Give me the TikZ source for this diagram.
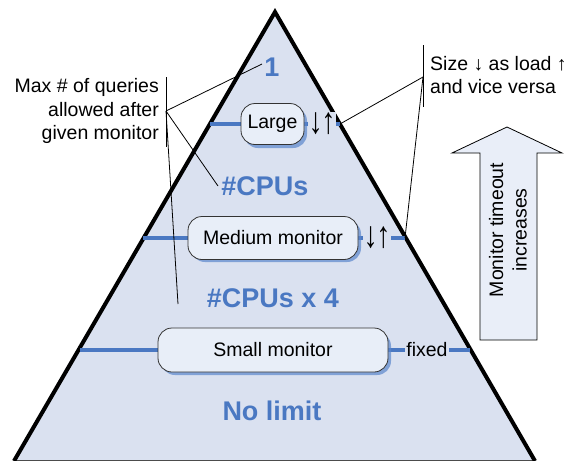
\documentclass[tikz,border=0pt]{standalone}
\usepackage{fontspec}
\setmainfont{Liberation Sans}
\newcommand{\tallarrows}{\scalebox{1.45}[1.9]{↓\kern-0.05em↑}}
\begin{document}
\begin{tikzpicture}[x=1pt,y=-1pt,
  blk/.style={font=\fontsize{19.5}{23.5}\selectfont, text=black, inner sep=0pt},
  bluetxt/.style={font=\fontsize{27}{30}\selectfont\bfseries, text=pyrblue, inner sep=0pt},
  mon/.style={draw=black!80, line width=0.8pt, fill=boxfill, rounded corners=14pt, minimum height=42pt, font=\fontsize{19.5}{23.5}\selectfont, inner sep=0pt},
  shad/.style={fill=shadblue, fill opacity=0.7, rounded corners=14pt},
  lvl/.style={draw=pyrblue, line width=4pt},
  arr/.style={fill=pyrfill, inner sep=1pt, font=\fontsize{19.5}{23.5}\selectfont},
  thin/.style={draw=black, line width=0.8pt}
]
\definecolor{pyrfill}{HTML}{DAE1F0}
\definecolor{pyrblue}{HTML}{4A78C2}
\definecolor{boxfill}{HTML}{E8EEF8}
\definecolor{shadblue}{HTML}{5B86CC}
\definecolor{arrfill}{HTML}{E9EEF8}
\useasboundingbox (0,0) rectangle (566,461);
% pyramid
\coordinate (apex) at (275,12);
\coordinate (bl) at (14,461);
\coordinate (br) at (535,461);
\fill[pyrfill] (apex) -- (bl) -- (br) -- cycle;
\draw[black!70, line width=1.5pt] (bl) -- (br);
\draw[black, line width=4pt, line join=miter] (bl) -- (apex) -- (br);
% level lines
\coordinate (l1a) at (210,124); \coordinate (l1b) at (340,124);
\coordinate (l2a) at (143,238); \coordinate (l2b) at (405,238);
\coordinate (l3a) at (80,350);  \coordinate (l3b) at (470,350);
\draw[lvl] (l1a) -- (l1b);
\draw[lvl] (l2a) -- (l2b);
\draw[lvl] (l3a) -- (l3b);
% shadows
\fill[shad] (244,107) rectangle (307,148);
\fill[shad] (191,220) rectangle (361,262);
\fill[shad] (161,332) rectangle (391,375);
% monitor boxes
\node[mon, minimum width=63pt, minimum height=41pt] (large) at (272.5,124) {Large};
\node[mon, minimum width=170pt, minimum height=43pt] (medium) at (273,238) {Medium monitor};
\node[mon, minimum width=230pt, minimum height=44pt] (small) at (273,350) {Small monitor};
% arrows / fixed
\node[arr] (a1) at (322,124) {\tallarrows};
\node[arr] (a2) at (377,238) {\tallarrows};
\node[arr] (fx) at (427,350) {fixed};
% blue labels
\node[bluetxt] (one) at (272,67) {1};
\node[bluetxt] (cpus) at (265,186) {\#CPUs};
\node[bluetxt] (cpus4) at (273,298) {\#CPUs x 4};
\node[bluetxt] (nolim) at (272,411) {No limit};
% left annotation
\node[blk, align=right, anchor=east] (maxq) at (159,111) {Max \# of queries\\allowed after\\given monitor};
\coordinate (lb1) at (166,77); \coordinate (lb2) at (166,147);
\draw[thin] (lb1) -- (lb2);
\coordinate (lf) at (166,111);
\coordinate (e1) at (262,64);
\coordinate (e2) at (218,186);
\coordinate (e3) at (178,304);
\draw[thin] (lf) -- (e1);
\draw[thin] (lf) -- (e2);
\draw[thin] (lf) -- (e3);
% right annotation
\node[blk, align=left, anchor=west] (size) at (430,75) {Size ↓ as load ↑\\and vice versa};
\coordinate (rb1) at (423,45); \coordinate (rb2) at (423,107);
\draw[thin] (rb1) -- (rb2);
\coordinate (rf) at (423,77);
\draw[thin] (rf) -- (l1b);
\draw[thin] (rf) -- (l2b);
% big arrow
\draw[fill=arrfill, draw=black, line width=0.8pt, line join=miter]
  (507,127) -- (562,153) -- (537,153) -- (537,340) -- (480,340) -- (480,153) -- (452,153) -- cycle;
\node[blk, align=center, rotate=90] (mt) at (508,230) {Monitor timeout\\increases};
\end{tikzpicture}
\end{document}
